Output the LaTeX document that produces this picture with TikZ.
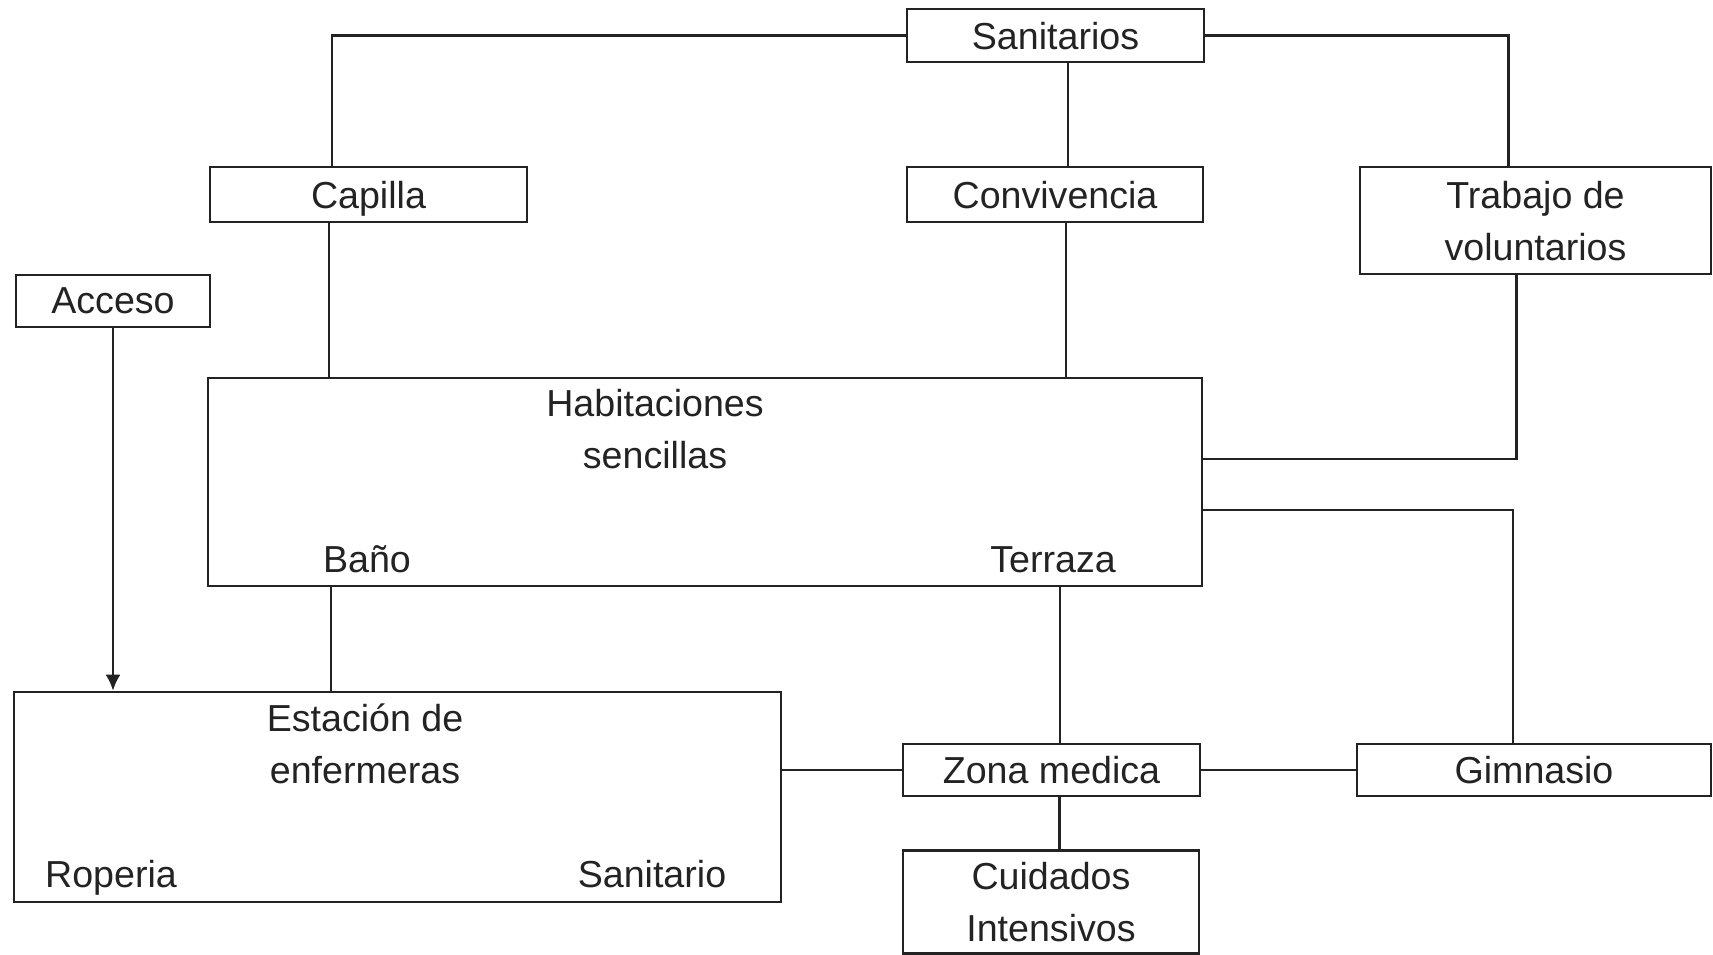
\documentclass[tikz,border=0pt]{standalone}
\usepackage{fontspec}
\setmainfont{Liberation Sans}
\usetikzlibrary{arrows.meta}
\definecolor{trazo}{RGB}{35,35,35}
\begin{document}
\begin{tikzpicture}[
        x=1pt, y=-1pt,
        sala/.style={draw=trazo, line width=2.6pt, rectangle, inner sep=0pt, align=center, text=trazo, text depth=0pt},
        rotulo/.style={inner sep=0pt, text=trazo},
        conexion/.style={draw=trazo, line width=2.4pt},
        flecha/.style={conexion, -{Latex[length=16pt, width=15pt]}},
        every node/.style={font=\fontsize{37.6}{52}\selectfont}
    ]
    \useasboundingbox (0,0) rectangle (1713,954);
    % bloques
    \node[sala, minimum width=297pt, minimum height=53pt] (sanitarios) at (1055.5,35.5) {Sanitarios};
    \node[sala, minimum width=317pt, minimum height=55pt] (capilla) at (368.5,194.5) {Capilla};
    \node[sala, minimum width=296pt, minimum height=55pt] (convivencia) at (1055,194.5) {Convivencia};
    \node[sala, minimum width=351pt, minimum height=107pt] (trabajo) at (1535.5,220.5) {Trabajo de\\voluntarios};
    \node[sala, minimum width=194pt, minimum height=52pt] (acceso) at (113,301) {Acceso};
    \node[sala, minimum width=994pt, minimum height=208pt] (hab) at (705,482) {};
    \node[sala, minimum width=767pt, minimum height=210pt] (estacion) at (397.5,797) {};
    \node[sala, minimum width=297pt, minimum height=52pt] (zona) at (1051.5,770) {Zona medica};
    \node[sala, minimum width=354pt, minimum height=52pt] (gimnasio) at (1534,770) {Gimnasio};
    \node[sala, minimum width=296pt, inner ysep=12pt, anchor=north] (cuidados) at (1051,849) {Cuidados\\Intensivos};
    % textos dentro de los bloques grandes
    \node[rotulo, align=center] (habtexto) at (655,429) {Habitaciones\\sencillas};
    \node[rotulo, anchor=base] (bano) at (367,572) {Baño};
    \node[rotulo, anchor=base] (terraza) at (1053,572) {Terraza};
    \node[rotulo, align=center] (esttexto) at (365,744) {Estación de\\enfermeras};
    \node[rotulo, anchor=base] (roperia) at (111,887) {Roperia};
    \node[rotulo, anchor=base] (sanitario) at (652,887) {Sanitario};
    % conexiones
    \draw[conexion] (sanitarios.west) -| ([xshift=-36.5pt]capilla.north);
    \draw[conexion] (sanitarios.east) -| ([xshift=-27pt]trabajo.north);
    \draw[conexion] ([xshift=12.5pt]sanitarios.south) -- ([xshift=12.5pt]sanitarios.south |- convivencia.north);
    \draw[conexion] ([xshift=-39.5pt]capilla.south) -- ([xshift=-39.5pt]capilla.south |- hab.north);
    \draw[conexion] ([xshift=11pt]convivencia.south) -- ([xshift=11pt]convivencia.south |- hab.north);
    \draw[conexion] ([xshift=-19pt]trabajo.south) |- ([yshift=23pt]hab.east);
    \draw[conexion] ([yshift=-28pt]hab.east) -| ([xshift=-21pt]gimnasio.north);
    \draw[flecha] (acceso.south) -- (acceso.south |- estacion.north);
    \draw[conexion] ([xshift=-374pt]hab.south) -- ([xshift=-374pt]hab.south |- estacion.north);
    \draw[conexion] ([xshift=8.5pt]zona.north) -- ([xshift=8.5pt]zona.north |- hab.south);
    \draw[conexion] (zona.west) -- (zona.west -| estacion.east);
    \draw[conexion] (zona.east) -- (gimnasio.west);
    \draw[conexion] ([xshift=8pt]zona.south) -- ([xshift=8pt]zona.south |- cuidados.north);
\end{tikzpicture}
\end{document}
